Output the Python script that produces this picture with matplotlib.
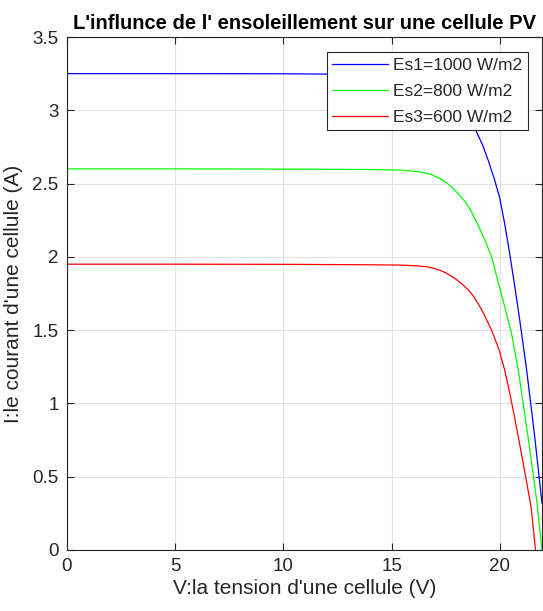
import matplotlib
matplotlib.use("Agg")
import matplotlib.pyplot as plt

# Data
v_es1 = [0, 5, 10, 14, 16, 17, 17.8, 18.4, 18.9, 19.2, 19.46, 19.75, 20.0, 20.22, 20.46, 20.69, 20.92, 21.23, 21.51, 21.6, 21.95]
i_es1 = [3.25, 3.25, 3.249, 3.245, 3.232, 3.2, 3.12, 3.01, 2.86, 2.765, 2.66, 2.53, 2.40, 2.23, 2.02, 1.80, 1.57, 1.24, 0.90, 0.79, 0.32]

v_es2 = [0, 5, 10, 14, 15.38, 16.3, 16.8, 17.23, 17.55, 17.84, 18.15, 18.46, 18.7, 18.92, 19.31, 19.62, 19.85, 20.1, 20.54, 20.85, 21.15, 21.45, 21.72, 21.95]
i_es2 = [2.6, 2.6, 2.599, 2.596, 2.592, 2.58, 2.563, 2.535, 2.505, 2.467, 2.42, 2.365, 2.305, 2.24, 2.115, 2.0, 1.87, 1.73, 1.48, 1.23, 0.93, 0.62, 0.32, 0.0]

v_es3 = [0, 5, 10, 14, 15.38, 16.0, 16.61, 17.0, 17.38, 17.7, 18.0, 18.27, 18.54, 18.77, 19.0, 19.23, 19.62, 19.97, 20.23, 20.46, 20.69, 21.06, 21.45, 21.65]
i_es3 = [1.95, 1.95, 1.949, 1.946, 1.944, 1.94, 1.933, 1.92, 1.90, 1.875, 1.845, 1.812, 1.775, 1.735, 1.68, 1.62, 1.50, 1.364, 1.225, 1.07, 0.90, 0.61, 0.29, 0.0]

labels = ["Es1=1000 W/m2", "Es2=800 W/m2", "Es3=600 W/m2"]
colors = ["#0000ff", "#00ff00", "#ff0000"]

x_ticks = [0, 5, 10, 15, 20]
y_ticks = [0, 0.5, 1, 1.5, 2, 2.5, 3, 3.5]
y_tick_labels = ["0", "0.5", "1", "1.5", "2", "2.5", "3", "3.5"]

plt.rcParams['font.family'] = ['Liberation Sans', 'DejaVu Sans']

fig = plt.figure(figsize=(5.43, 6.11), dpi=100)
ax = fig.add_axes([67/543, 61/611, 475/543, 513/611])

for v, i, lab, c in zip([v_es1, v_es2, v_es3], [i_es1, i_es2, i_es3], labels, colors):
    ax.plot(v, i, color=c, linewidth=0.9, label=lab, solid_joinstyle="round")

ax.set_xlim(0, 21.95)
ax.set_ylim(0, 3.5)
ax.set_xticks(x_ticks)
ax.set_yticks(y_ticks)
ax.set_yticklabels(y_tick_labels)
ax.grid(True, color="#e3e3e3", linewidth=0.8)
ax.set_axisbelow(True)

spine_col = "#262626"
for s in ax.spines.values():
    s.set_color(spine_col)
    s.set_linewidth(0.8)
ax.tick_params(direction="in", top=True, right=True, length=5, width=0.8,
               color=spine_col, labelsize=13.5, labelcolor="#262626", pad=6)

ax.set_xlabel("V:la tension d'une cellule (V)", fontsize=15, color="#262626", labelpad=3)
ax.set_ylabel("I:le courant d'une cellule (A)", fontsize=15, color="#262626", labelpad=7)
ax.set_title("L'influnce de l' ensoleillement sur une cellule PV", fontsize=14.5,
             fontweight="bold", color="black", pad=6)

leg = ax.legend(loc="upper right", bbox_to_anchor=(0.97, 0.97), fontsize=12.5,
                fancybox=False, framealpha=1, edgecolor=spine_col,
                handlelength=3.2, handletextpad=0.3, labelspacing=0.62,
                borderpad=0.32, borderaxespad=0)
leg.get_frame().set_linewidth(0.8)
for t in leg.get_texts():
    t.set_color("#262626")

fig.savefig("out.png", dpi=100)
